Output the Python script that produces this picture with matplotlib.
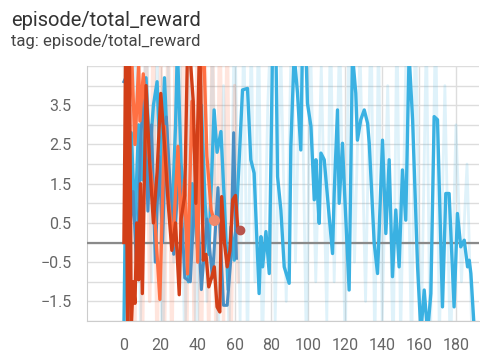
import matplotlib
matplotlib.use("Agg")
import matplotlib.pyplot as plt
import numpy as np

plt.rcParams["font.family"] = ["Roboto", "DejaVu Sans"]

# ── data ──────────────────────────────────────────────────────────────────────
x_ticks = [0, 20, 40, 60, 80, 100, 120, 140, 160, 180]
y_ticks = [-1.5, -0.5, 0.5, 1.5, 2.5, 3.5]

# light blue run, smoothed
blue_x = [0, 1, 2, 4, 6, 8, 10, 12, 14, 16, 18, 20, 22, 24, 26, 28, 29, 31, 33,
          35, 37, 40, 42, 44, 46, 48.9, 50.5, 52.6, 54.5, 56.5, 58, 59.8, 62.5,
          64.3, 67.0, 68.8, 70.6, 73.3, 74.3, 75.2, 77.0, 78.8, 80.6, 82.4, 83.3,
          85.1, 86.9, 89.6, 90.5, 92.3, 94.1, 95.9, 96.8, 98.6, 99.5, 101.4,
          103.2, 104.1, 105.0, 105.9, 106.8, 108.6, 111.3, 113.1, 114.0, 115.8,
          116.7, 118.5, 119.4, 122.1, 123.9, 125.7, 126.6, 128.4, 130.3, 132.1,
          133.0, 135.7, 137.5, 140.2, 142.0, 143.8, 145.6, 147.4, 149.2, 151.0,
          152.8, 154.6, 156.5, 159.2, 161.0, 162.8, 164.6, 166.4, 168.2, 170.0,
          172.7, 174.5, 176.3, 179.0, 180.8, 182.6, 184.5, 186.3, 187.2, 188.1,
          189.9]
blue_y = [-2.2, 1.5, -0.5, 2.8, 0.5, 3.0, 1.6, 4.2, 2.2, 3.5, 4.1, 1.5, 4.2, 2.0,
          0.5, 3.0, 5.0, 2.0, 1.0, -1.0, 1.5, -0.2, 3.5, 1.0, -0.3, 3.38, 2.3,
          2.83, 1.0, -1.2, 0.4, -0.45, 2.11, 3.89, 3.93, 2.11, 1.77, -1.30, 0.15,
          -0.62, 0.28, -0.79, 5.0, 5.0, 1.68, 0.83, -0.62, -1.04, 2.45, 4.8, 3.81,
          2.36, 5.0, 5.0, 3.55, 2.96, 1.09, 2.11, 1.17, 0.49, 2.28, 2.11, 0.66,
          -0.28, 1.25, 3.38, 1.00, 2.53, 1.51, -1.21, 4.8, 3.81, 2.61, 3.13, 3.38,
          3.04, 2.53, -0.02, -0.79, 2.61, 0.23, 2.11, -0.87, 0.83, -0.62, 1.85,
          0.57, 4.8, 3.13, -0.62, -2.3, -1.21, -2.3, -1.30, 3.21, 3.13, -1.64,
          1.25, 1.25, -1.64, 0.74, -0.11, 0.06, -0.62, -0.45, -0.79, -2.2]

# light blue run, raw (faded)
blue_raw_x = [0, 3, 6, 9, 12, 15, 18, 21, 24, 27, 30, 33, 36, 39, 42, 45, 48,
              51, 54, 57, 60, 63, 65, 67, 69, 71, 73, 75, 78, 80, 82, 85, 88, 91,
              93, 96, 99, 101, 104, 107, 110, 112, 114, 117, 120, 122, 125, 128,
              131, 134, 136, 138, 140, 143, 146, 148, 150, 153, 156, 158, 161,
              164, 166, 169, 171, 174, 177, 180, 183, 186, 189]
blue_raw_y = [6.0, -3.0, 5.5, -2.0, 6.0, -1.0, 5.0, -3.0, 4.5, -0.5, 6.0, -3.0,
              5.0, -2.5, 6.0, -1.5, 5.0, -3.0, 4.0, -2.5, 6.0, -2.0, 6.0, -3.0,
              5.5, -1.0, 6.0, -3.0, 3.5, 6.0, -2.0, 5.0, -1.5, 6.0, -0.5, 6.0,
              -3.0, 5.5, -1.0, 4.5, -2.0, 6.0, -1.0, 5.5, -3.0, 6.0, -0.5, 5.0,
              -1.5, 6.0, -3.0, 5.5, -2.0, 4.0, -3.0, 6.0, -2.5, 5.0, -3.0, 6.0,
              -3.0, 5.5, -3.0, 6.0, -2.5, 4.0, -3.0, 3.0, -1.0, 2.0, -3.0]

# steel blue run
steel_x = [0, 1, 2, 3, 5, 7, 9, 11, 13, 15, 17, 19, 21, 23, 25, 27, 30, 33, 36,
           39, 42, 45, 48, 51, 54, 56, 58, 59.5, 61]
steel_y = [4.1, 4.2, -2.2, 0.2, 1.3, -0.8, 2.5, 4.2, 0.8, 3.0, -0.5, 2.2, 0.0,
           3.2, 1.5, -0.3, 2.0, -0.9, -1.0, 1.8, -1.2, 0.6, -0.9, 1.4, -1.6,
           -1.6, -0.4, 2.8, -0.4]

# orange run
orange_x = [0, 1, 2, 4, 6, 8, 8.7, 10.5, 13.2, 15.9, 17.7, 19.5, 22, 24, 26.5,
            29.3, 31, 32.9, 34.5, 36.9, 38.5, 40, 42, 43.5, 45, 47.3, 48.8]
orange_y = [5.0, 4.8, 2.0, 5.0, 2.5, 4.5, 3.1, 4.3, 2.4, 1.25, -0.1, -1.45, 2.96,
            1.2, -0.1, 2.45, 0.4, 1.6, -0.8, 3.6, 2.1, -0.5, 5.0, 4.6, 2.2, 0.83,
            0.57]

# dark red run
red_x = [0, 1, 2, 3, 4, 5, 6, 7, 8, 9, 10, 12, 14, 16, 18, 20, 22, 24, 26, 28,
         30, 31, 33, 34.5, 35.5, 37.6, 39, 41, 41.7, 43, 44.5, 46, 47.5, 49, 50.5,
         52, 53, 54.5, 56, 57.5, 59, 60.5, 61.8, 62.8]
red_y = [0.0, 5.0, -2.2, 5.0, -2.2, -1.0, -1.55, 0.5, -0.95, 1.5, -1.3, 4.0, 2.0,
         0.5, 1.8, 3.8, 2.5, 1.0, -0.2, 0.5, -1.33, 0.6, 1.2, 5.0, 5.0, 3.6, 1.0,
         5.0, 3.89, -0.45, -0.3, -1.13, -0.9, -0.62, -1.64, -1.77, 1.17, 0.0,
         -0.62, -0.2, 1.09, 1.2, 0.32, 0.32]

# orange/red raw (faded)
warm_raw_x = [0, 2, 4, 6, 8, 10, 12, 14, 16, 18, 20, 22, 24, 26, 28, 30, 32,
              34, 36, 38, 40, 42, 44, 46, 48, 50, 52, 54, 56, 58, 60, 62]
warm_raw_y = [6.0, -3.0, 6.0, -2.0, 5.5, -3.0, 6.0, -1.5, 6.0, -3.0, 5.0, -2.5,
              6.0, -3.0, 6.0, -1.0, 5.5, -3.0, 6.0, -2.0, 6.0, -3.0, 5.0, -2.5,
              6.0, -3.0, 6.0, -2.0, 5.5, -3.0, 4.0, -1.0]

BLUE = "#3AB1E2"
STEEL = "#4A8FC4"
ORANGE = "#FF7043"
RED = "#D23F18"

# ── figure ────────────────────────────────────────────────────────────────────
W, H = 481, 356
fig = plt.figure(figsize=(W / 100, H / 100), dpi=100)
ax = fig.add_axes([87 / W, 1 - 321 / H, (479 - 87) / W, (321 - 66) / H])

fig.text(11 / W, 1 - 26 / H, "episode/total_reward", fontsize=14.5,
         color="#333333", va="baseline")
fig.text(11 / W, 1 - 46 / H, "tag: episode/total_reward", fontsize=12,
         color="#444444", va="baseline")

# faded raw series
ax.plot(blue_raw_x, blue_raw_y, color=BLUE, alpha=0.16, lw=2.0, zorder=2)
ax.plot(warm_raw_x, warm_raw_y, color=ORANGE, alpha=0.18, lw=2.5, zorder=2)

# smoothed series
ax.plot(blue_x, blue_y, color=BLUE, lw=2.4, zorder=4)
ax.plot(steel_x, steel_y, color=STEEL, lw=2.2, zorder=4)
ax.plot(orange_x, orange_y, color=ORANGE, lw=2.4, zorder=5)
ax.plot(red_x, red_y, color=RED, lw=2.4, zorder=6)

# end-point markers
ax.plot(orange_x[-1], orange_y[-1], "o", color="#F08A6C", ms=7, zorder=7)
ax.plot(red_x[-1], red_y[-1], "o", color="#B8544C", ms=6, zorder=7)

ax.axhline(0, color="#8a8a8a", lw=1.6, zorder=3)

ax.set_xlim(-20, 192.5)
ax.set_ylim(-2, 4.5)
ax.set_xticks(x_ticks)
ax.set_yticks(y_ticks)
ax.set_yticks(np.arange(-2, 4.51, 0.5), minor=True)
ax.tick_params(axis="both", length=0, labelsize=11.5, labelcolor="#666666")
ax.tick_params(axis="x", pad=12)
ax.tick_params(axis="y", pad=11)
ax.tick_params(which="minor", length=0)

ax.grid(True, axis="x", color="#dddddd", lw=1.0, zorder=1)
ax.grid(True, axis="y", which="both", color="#dddddd", lw=1.0, zorder=1)

for s in ["top", "right"]:
    ax.spines[s].set_visible(False)
ax.spines["left"].set_color("#cccccc")
ax.spines["bottom"].set_color("#cccccc")

fig.savefig("out.png", dpi=100)
